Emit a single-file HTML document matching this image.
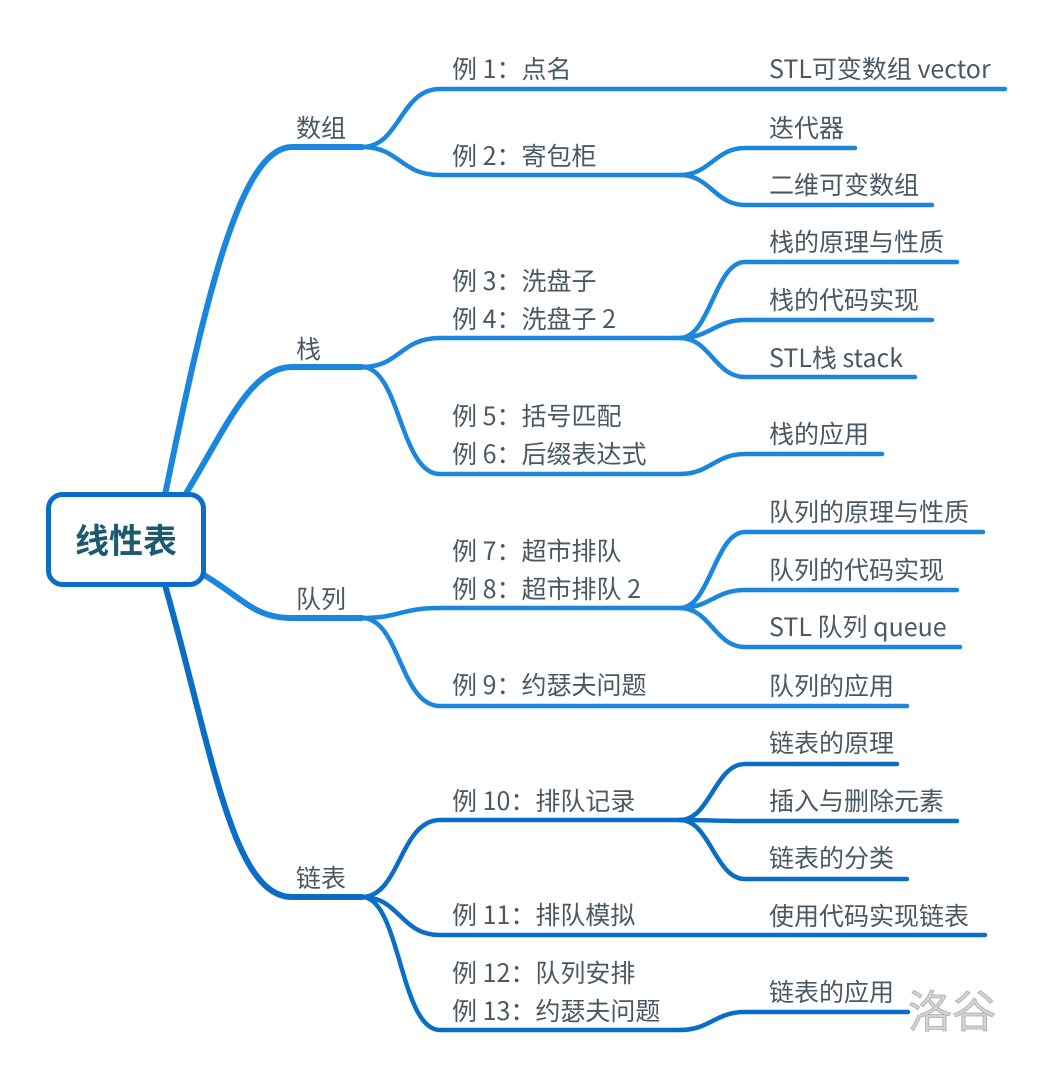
<!DOCTYPE html>
<html><head><meta charset="utf-8"><style>
html,body{margin:0;padding:0;background:#fff}
svg{display:block}
text{font-family:"Noto Sans CJK SC","Liberation Sans",sans-serif;font-size:25px;fill:#4a5864}
</style></head><body>
<svg width="1051" height="1080" viewBox="0 0 1051 1080" xmlns="http://www.w3.org/2000/svg">
<g fill="none" stroke-linecap="round">
<g stroke="#1a86de" stroke-width="6">
<path d="M165,495 C205,300 240,147 292,147 L362,147"/>
<path d="M185,495 C225,430 250,367 292,367 L362,367"/>
<path d="M204,575 C245,600 255,618 292,618 L362,618"/>
</g>
<path stroke="#0b6ec6" stroke-width="6" d="M165,585 C212,750 232,897 292,897 L362,897"/>
<g stroke="#1a86de" stroke-width="4.5">
<path d="M362,147 C400,147 400,89 440,89 L1005,89"/>
<path d="M362,147 C400,147 400,175 440,175 L680,175"/>
<path d="M362,367 C400,367 400,338 440,338 L680,338"/>
<path d="M362,367 C400,367 400,474 440,474 L680,474"/>
<path d="M362,618 C400,618 400,608 440,608 L680,608"/>
<path d="M362,618 C400,618 400,706 440,706 L907,706"/>
<path d="M680,175 C710,175 715,148 745,148 L855,148"/>
<path d="M680,175 C710,175 715,205 745,205 L932,205"/>
<path d="M680,338 C710,338 715,262 745,262 L957,262"/>
<path d="M680,338 C710,338 715,320 745,320 L932,320"/>
<path d="M680,338 C710,338 715,377 745,377 L915,377"/>
<path d="M680,474 C710,474 715,454 745,454 L882,454"/>
<path d="M680,608 C710,608 715,532 745,532 L983,532"/>
<path d="M680,608 C710,608 715,590 745,590 L957,590"/>
<path d="M680,608 C710,608 715,647 745,647 L960,647"/>
</g>
<g stroke="#0b6ec6" stroke-width="4.5">
<path d="M362,897 C400,897 400,820 440,820 L680,820"/>
<path d="M362,897 C400,897 400,935 440,935 L985,935"/>
<path d="M362,897 C400,897 400,1030 440,1030 L680,1030"/>
<path d="M680,820 C710,820 715,764 745,764 L897,764"/>
<path d="M680,820 C710,820 715,821 745,821 L957,821"/>
<path d="M680,820 C710,820 715,879 745,879 L907,879"/>
<path d="M680,1030 C710,1030 715,1012 745,1012 L908,1012"/>
</g>
</g>
<rect x="48.5" y="494.5" width="155" height="90" rx="14" fill="#fff" stroke="#0b6ec6" stroke-width="5"/>
<text x="126" y="553" text-anchor="middle" style="font-size:34px;font-weight:bold;fill:#1e5a6e">线性表</text>
<text x="296" y="137">数组</text>
<text x="296" y="358">栈</text>
<text x="296" y="608">队列</text>
<text x="296" y="887">链表</text>
<text x="452" y="78">例 1：点名</text>
<text x="452" y="165">例 2：寄包柜</text>
<text x="452" y="290">例 3：洗盘子</text>
<text x="452" y="328">例 4：洗盘子 2</text>
<text x="452" y="425">例 5：括号匹配</text>
<text x="452" y="463">例 6：后缀表达式</text>
<text x="452" y="560">例 7：超市排队</text>
<text x="452" y="598">例 8：超市排队 2</text>
<text x="452" y="694">例 9：约瑟夫问题</text>
<text x="452" y="810">例 10：排队记录</text>
<text x="452" y="924">例 11：排队模拟</text>
<text x="452" y="982">例 12：队列安排</text>
<text x="452" y="1020">例 13：约瑟夫问题</text>
<text x="769" y="78">STL可变数组 vector</text>
<text x="769" y="137">迭代器</text>
<text x="769" y="194">二维可变数组</text>
<text x="769" y="251">栈的原理与性质</text>
<text x="769" y="367">STL栈 stack</text>
<text x="769" y="309">栈的代码实现</text>
<text x="769" y="443">栈的应用</text>
<text x="769" y="521">队列的原理与性质</text>
<text x="769" y="579">队列的代码实现</text>
<text x="769" y="636">STL 队列 queue</text>
<text x="769" y="695">队列的应用</text>
<text x="769" y="752">链表的原理</text>
<text x="769" y="810">插入与删除元素</text>
<text x="769" y="867">链表的分类</text>
<text x="769" y="925">使用代码实现链表</text>
<text x="769" y="1001">链表的应用</text>
<text x="908" y="1027" style="font-size:44px;fill:#d4d4d4;stroke:#aaa;stroke-width:0.8">洛谷</text>
</svg>
</body></html>
